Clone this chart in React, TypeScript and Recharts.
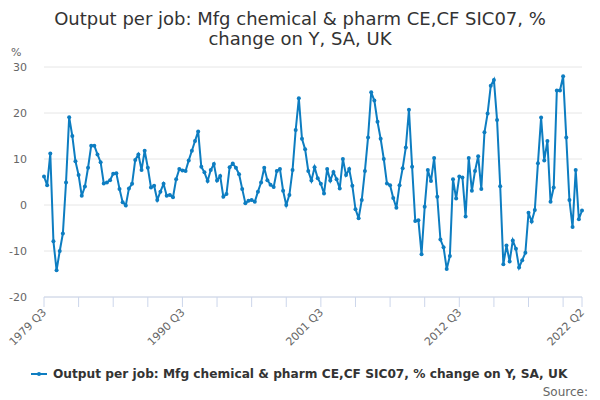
import { CartesianGrid, Line, LineChart, XAxis, YAxis } from "recharts";

const START_YEAR = 1979;
const START_QUARTER = 3;

// % change on Y, quarterly, 1979 Q3 .. 2022 Q2
const VALUES = [
  6.2, 4.3, 11.2, -7.9, -14.2, -10.0, -6.2, 4.9, 19.1, 15.0,
  9.5, 6.5, 2.0, 4.0, 8.1, 12.9, 12.9, 11.0, 9.3, 4.7,
  4.9, 5.4, 6.8, 6.9, 3.5, 0.6, -0.1, 3.6, 4.6, 9.8,
  11.0, 7.6, 11.8, 8.1, 3.8, 4.2, 1.1, 2.9, 4.6, 2.0,
  2.2, 1.7, 5.6, 7.8, 7.5, 7.4, 9.7, 11.8, 13.9, 16.0,
  8.3, 7.1, 5.2, 7.6, 8.9, 5.3, 6.3, 1.8, 2.4, 8.2,
  9.0, 8.1, 6.7, 3.5, 0.4, 0.9, 1.1, 0.7, 2.9, 4.9,
  8.1, 5.4, 4.4, 3.9, 7.4, 7.8, 3.1, 0.0, 2.2, 7.6,
  16.3, 23.2, 14.4, 12.1, 7.4, 5.3, 8.2, 5.8, 4.6, 2.5,
  7.8, 5.3, 7.2, 5.6, 3.6, 10.0, 6.5, 7.8, 4.2, -0.9,
  -2.9, 1.1, 7.4, 14.7, 24.5, 22.7, 18.1, 14.4, 10.0, 4.7,
  4.3, 1.5, -0.6, 4.3, 8.0, 12.5, 20.7, 8.3, -3.5, -3.3,
  -10.7, -0.4, 7.6, 5.2, 10.2, 1.8, -7.5, -9.2, -13.9, -11.1,
  5.6, 1.4, 6.2, 6.0, -2.5, 10.2, 3.1, 7.4, 10.6, 3.5,
  15.8, 19.9, 25.9, 27.2, 18.5, 4.1, -12.9, -8.8, -12.3, -7.7,
  -9.5, -13.6, -12.0, -10.4, -1.7, -3.6, -1.1, 9.1, 19.0, 9.7,
  13.9, 0.7, 3.8, 24.9, 24.9, 28.0, 14.7, 1.1, -4.8, 7.6,
  -3.1, -1.2,
];

const TICK_LABELS = ["1979 Q3", "1990 Q3", "2001 Q3", "2012 Q3", "2022 Q2"];
const Y_TICKS = [-20, -10, 0, 10, 20, 30];

const TITLE = ["Output per job: Mfg chemical & pharm CE,CF SIC07, %", "change on Y, SA, UK"];
const SERIES_NAME = "Output per job: Mfg chemical & pharm CE,CF SIC07, % change on Y, SA, UK";

const COLOR = "#0d7dc1";
const FONT = "'DejaVu Sans', sans-serif";

const quarterLabel = (i: number) => {
  const q = START_QUARTER - 1 + i;
  return `${START_YEAR + Math.floor(q / 4)} Q${(q % 4) + 1}`;
};

const data = VALUES.map((v, i) => ({ idx: i, label: quarterLabel(i), value: v }));
const last = data.length - 1;
// tick marks every 11 quarters, plus the last quarter
const xTicks = [...data.filter((d) => d.idx % 11 === 0).map((d) => d.idx), last];

function XTick(props: any) {
  const { x, y, payload } = props;
  const label = quarterLabel(payload.value);
  if (!TICK_LABELS.includes(label)) return <g />;
  return (
    <text
      transform={`translate(${x + 3},${y + 4}) rotate(-45)`}
      textAnchor="end"
      fontSize={11}
      fill="#666"
      fontFamily={FONT}
    >
      {label}
    </text>
  );
}

export default function App() {
  return (
    <div style={{ position: "absolute", left: 0, top: 0, width: 600, height: 400, fontFamily: FONT, background: "#fff" }}>
      <LineChart
        width={600}
        height={400}
        data={data}
        margin={{ top: 67, right: 18, left: 0, bottom: 43 }}
      >
        <CartesianGrid vertical={false} stroke="#e6e6e6" />
        <XAxis
          dataKey="idx"
          type="number"
          domain={[0, last]}
          ticks={xTicks}
          interval={0}
          height={60}
          tickSize={10}
          axisLine={{ stroke: "#ccd6eb" }}
          tickLine={{ stroke: "#ccd6eb" }}
          tick={<XTick />}
        />
        <YAxis
          type="number"
          domain={[-20, 30]}
          ticks={Y_TICKS}
          width={44}
          axisLine={false}
          tickLine={false}
          tickMargin={11}
          tick={{ fontSize: 11, fill: "#666", fontFamily: FONT }}
        />
        <Line
          dataKey="value"
          stroke={COLOR}
          strokeWidth={2}
          dot={{ r: 2, fill: COLOR, stroke: COLOR, strokeWidth: 0 }}
          isAnimationActive={false}
        />
      </LineChart>

      <div style={{ position: "absolute", top: 9, left: 0, width: 600, textAlign: "center", fontSize: 18, lineHeight: "20px", color: "#333" }}>
        {TITLE.map((t) => (
          <div key={t}>{t}</div>
        ))}
      </div>
      <div style={{ position: "absolute", top: 46, left: 11, fontSize: 11, color: "#666" }}>%</div>

      <div style={{ position: "absolute", top: 367, left: 30, display: "flex", alignItems: "center", whiteSpace: "nowrap" }}>
        <svg width={18} height={14}>
          <line x1={1} y1={7} x2={17} y2={7} stroke={COLOR} strokeWidth={2} />
          <circle cx={9} cy={7} r={2} fill={COLOR} />
        </svg>
        <span style={{ marginLeft: 5, fontSize: 12.2, fontWeight: "bold", color: "#333" }}>{SERIES_NAME}</span>
      </div>
      <div style={{ position: "absolute", top: 385, right: 12, fontSize: 12, color: "#666" }}>Source:</div>
    </div>
  );
}
